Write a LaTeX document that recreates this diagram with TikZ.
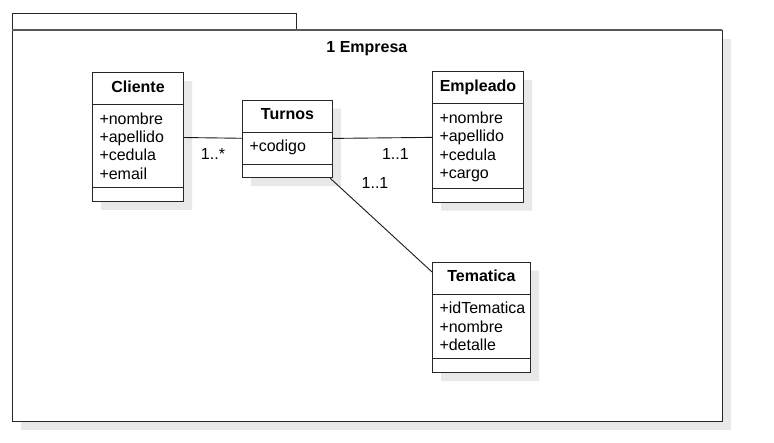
\documentclass[tikz,border=0pt]{standalone}
\usepackage{fontspec}
\setmainfont{Liberation Sans}
\usepackage{tikz}
\usetikzlibrary{shapes.multipart, positioning, shadows}

\begin{document}
\begin{tikzpicture}[x=1pt, y=-1pt, font=\fontsize{16}{18.4}\selectfont,
        sombra/.style={drop shadow={shadow xshift=8.5pt, shadow yshift=-8.5pt, fill=black!9, opacity=1}},
        clase/.style={draw=black!85, line width=1pt, fill=white, sombra, rectangle split, rectangle split parts=3,
            rectangle split empty part height=0pt, inner xsep=7pt, inner ysep=6.3pt, text width=77pt},
        paquete/.style={draw=black!85, line width=1pt, fill=white, outer sep=0pt},
        mult/.style={inner sep=5pt},
        assoc/.style={draw=black!90, line width=0.9pt}]
        \useasboundingbox (0,0) rectangle (774,442);

        \node (empresa) [paquete, sombra, minimum width=710pt, minimum height=391pt, anchor=north west] at (12,30) {};
        \node (pestana) [paquete, minimum width=284pt, minimum height=17pt, anchor=south west] at (empresa.north west) {};
        \draw[black!65, line width=1.6pt] (empresa.north west) -- (empresa.north east);
        \node (titulo) [below=11.5pt of empresa.north, inner sep=0pt] {\textbf{1 Empresa}};

        \node (cliente) [clase, anchor=north west] at (92,72) {\makebox[\hsize]{\textbf{Cliente}\strut}
            \nodepart{two}\strut+nombre\\+apellido\\+cedula\\+email\rule[-1.5pt]{0pt}{1.5pt}
            \nodepart{three}\rule{0pt}{0pt}};
        \node (turnos) [clase, text width=76pt, right=58pt of cliente, yshift=-2pt] {\makebox[\hsize]{\textbf{Turnos}\strut}
            \nodepart{two}\strut+codigo\rule[-1.5pt]{0pt}{1.5pt}
            \nodepart{three}\rule{0pt}{0pt}};
        \node (empleado) [clase, right=248pt of cliente] {\makebox[\hsize]{\textbf{Empleado}\strut}
            \nodepart{two}\strut+nombre\\+apellido\\+cedula\\+cargo\rule[-1.5pt]{0pt}{1.5pt}
            \nodepart{three}\rule{0pt}{0pt}};
        \node (tematica) [clase, text width=84pt, below=59pt of empleado.south west, anchor=north west] {\makebox[\hsize]{\textbf{Tematica}\strut}
            \nodepart{two}\strut+idTematica\\+nombre\\+detalle\rule[-1.5pt]{0pt}{1.5pt}
            \nodepart{three}\rule{0pt}{0pt}};

        \draw[assoc] (cliente) -- node (m1) [mult, below=5pt] {1..*} (turnos);
        \draw[assoc] (turnos) -- node (m2) [mult, pos=0.63, below=5pt] {1..1} (empleado);
        \draw[assoc] (turnos) -- node (m3) [mult, pos=0.05, right=21pt] {1..1} (tematica);
    \end{tikzpicture}
\end{document}
